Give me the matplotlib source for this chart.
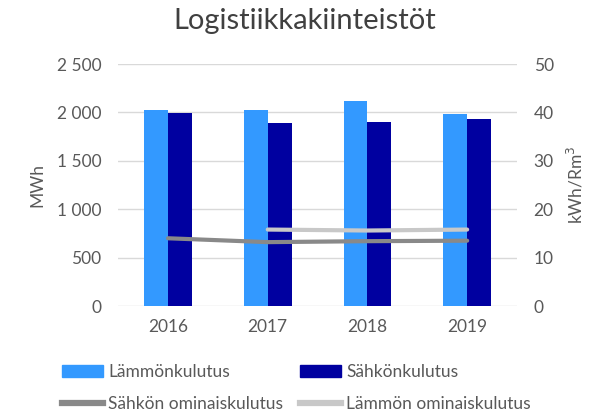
import numpy as np
import matplotlib.pyplot as plt
from matplotlib.lines import Line2D
from matplotlib.patches import Patch

plt.rcParams['font.family'] = ['Lato', 'DejaVu Sans']

years = ['2016', '2017', '2018', '2019']
lampo_kulutus = [2025, 2025, 2114, 1987]      # MWh
sahko_kulutus = [1990, 1887, 1901, 1928]      # MWh
sahko_omin = [14.0, 13.2, 13.4, 13.5]         # kWh/Rm3
lampo_omin = [np.nan, 15.8, 15.6, 15.8]       # kWh/Rm3

COLOR_LAMPO = '#3399FF'
COLOR_SAHKO = '#0000A0'
COLOR_SAHKO_OM = '#898989'
COLOR_LAMPO_OM = '#C8C8C8'
TEXT = '#595959'

fig = plt.figure(figsize=(5.97, 4.13), dpi=100)
ax = fig.add_axes([0.198, 0.259, 0.668, 0.586])
ax2 = ax.twinx()

x = np.arange(len(years))
w = 0.24
ax.bar(x - w / 2, lampo_kulutus, w, color=COLOR_LAMPO, zorder=2)
ax.bar(x + w / 2, sahko_kulutus, w, color=COLOR_SAHKO, zorder=2)

ax2.plot(x, sahko_omin, color=COLOR_SAHKO_OM, linewidth=3, solid_capstyle='round')
ax2.plot(x, lampo_omin, color=COLOR_LAMPO_OM, linewidth=3, solid_capstyle='round')

ax.set_xlim(-0.5, 3.5)
ax.set_ylim(0, 2500)
ax.set_yticks(np.arange(0, 2501, 500))
ax.set_yticklabels([f'{v:,}'.replace(',', ' ') for v in range(0, 2501, 500)])
ax2.set_ylim(0, 50)
ax2.set_yticks(np.arange(0, 51, 10))
ax.set_xticks(x)
ax.set_xticklabels(years)

ax.grid(axis='y', color='#D9D9D9', linewidth=1, zorder=0)
for a in (ax, ax2):
    for s in a.spines.values():
        s.set_visible(False)
    a.tick_params(length=0, labelsize=12.5, colors=TEXT, pad=12)
ax.tick_params(axis='x', pad=9)

ax.set_ylabel('MWh', fontsize=12.5, color=TEXT, labelpad=8)
ax2.set_ylabel('kWh/Rm$^3$', fontsize=12.5, color=TEXT, labelpad=8)
fig.suptitle('Logistiikkakiinteistöt', fontsize=21, color='#404040', x=0.511, y=0.98)

# order so that fig.legend (column-major) gives rows: bars, then lines
handles = [Patch(color=COLOR_LAMPO), Line2D([], [], color=COLOR_SAHKO_OM, linewidth=4.5),
           Patch(color=COLOR_SAHKO), Line2D([], [], color=COLOR_LAMPO_OM, linewidth=4.5)]
labels = ['Lämmönkulutus', 'Sähkön ominaiskulutus', 'Sähkönkulutus', 'Lämmön ominaiskulutus']
fig.legend(handles, labels, ncol=2, loc='upper left', bbox_to_anchor=(0.104, 0.118),
           frameon=False, fontsize=12.5, labelcolor=TEXT, handlelength=2.35,
           handletextpad=0.3, columnspacing=1.0, labelspacing=0.9,
           borderpad=0, borderaxespad=0)

fig.savefig('out.png', dpi=100)
